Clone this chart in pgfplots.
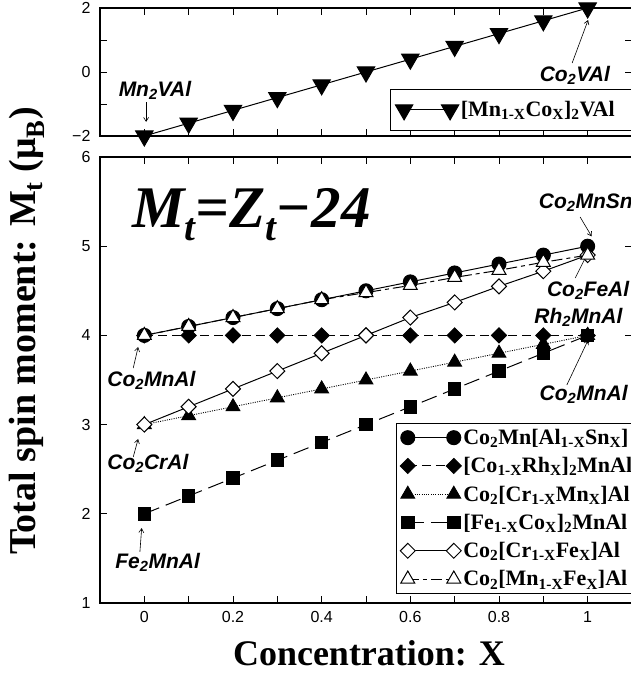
\documentclass[border=0pt]{standalone}
\usepackage{fontspec}
\setmainfont{Liberation Serif}
\newfontfamily\arial{Liberation Sans}
\usepackage{pgfplots}
\pgfplotsset{compat=1.18}
\usetikzlibrary{arrows.meta}
\newcommand{\ann}[1]{{\arial\bfseries\itshape\fontsize{21}{22}\selectfont #1}}
\tikzset{ann arrow/.style={line width=0.6pt, -{Straight Barb[length=4pt,width=5pt]}}}
\begin{document}
\begin{tikzpicture}
\pgfplotsset{
  common/.style={scale only axis, width=532pt, xmin=-0.1, xmax=1.1, clip=false,
    tick align=inside, major tick length=7pt,
    axis line style={line width=1.2pt},
    every tick/.style={black, line width=0.9pt},
    xtick={0,0.1,0.2,0.3,0.4,0.5,0.6,0.7,0.8,0.9,1},
    ticklabel style={font=\arial\fontsize{16}{16}\selectfont},
    yticklabel style={xshift=-6pt},
    xticklabel style={yshift=-5pt},
    legend cell align=left,
    legend image code/.code={\draw[##1] plot coordinates {(0pt,0pt) (46pt,0pt)};},
  },
}
% bottom panel
\begin{axis}[common, at={(0,0)}, anchor=south west, height=446pt,
  ymin=1, ymax=6, ytick={1,2,3,4,5,6}, yticklabels={1,2,3,4,5,6},
  xticklabels={0,,0.2,,0.4,,0.6,,0.8,,1},
  legend style={at={(0.556,0.404)}, anchor=north west, draw=black, line width=1pt,
    font=\bfseries\fontsize{22}{24}\selectfont, row sep=7.5pt, inner sep=4pt},
]
\addplot[black, line width=1pt, mark=*, mark size=7pt, mark options={solid, fill=black}]
  coordinates {(0,4) (0.1,4.1) (0.2,4.2) (0.3,4.3) (0.4,4.4) (0.5,4.5) (0.6,4.6) (0.7,4.7) (0.8,4.8) (0.9,4.9) (1,5)};
\addlegendentry{Co\textsubscript{2}Mn[Al\textsubscript{1-X}Sn\textsubscript{X}]\rule{50pt}{0pt}}
\addplot[black, line width=1pt, dash pattern=on 9pt off 5pt, mark=square*, mark size=5.3pt, mark options={solid, fill=black, rotate=45}]
  coordinates {(0,4) (0.1,4) (0.2,4) (0.3,4) (0.4,4) (0.5,4) (0.6,4) (0.7,4) (0.8,4) (0.9,4) (1,4)};
\addlegendentry{[Co\textsubscript{1-X}Rh\textsubscript{X}]\textsubscript{2}MnAl}
\addplot[black, line width=0.9pt, dash pattern=on 1pt off 1.3pt, mark=triangle*, mark size=8pt, mark options={solid, fill=black}]
  coordinates {(0,3) (0.1,3.1) (0.2,3.2) (0.3,3.3) (0.4,3.4) (0.5,3.5) (0.6,3.6) (0.7,3.7) (0.8,3.8) (0.9,3.9) (1,4)};
\addlegendentry{Co\textsubscript{2}[Cr\textsubscript{1-X}Mn\textsubscript{X}]Al}
\addplot[black, line width=1pt, dash pattern=on 16pt off 7pt, mark=square*, mark size=6.3pt, mark options={solid, fill=black}]
  coordinates {(0,2) (0.1,2.2) (0.2,2.4) (0.3,2.6) (0.4,2.8) (0.5,3) (0.6,3.2) (0.7,3.4) (0.8,3.6) (0.9,3.8) (1,4)};
\addlegendentry{[Fe\textsubscript{1-X}Co\textsubscript{X}]\textsubscript{2}MnAl}
\addplot[black, line width=1pt, mark=square*, mark size=5.3pt, mark options={solid, fill=white, rotate=45}]
  coordinates {(0,3) (0.1,3.2) (0.2,3.4) (0.3,3.6) (0.4,3.8) (0.5,4) (0.6,4.2) (0.7,4.37) (0.8,4.55) (0.9,4.72) (1,4.9)};
\addlegendentry{Co\textsubscript{2}[Cr\textsubscript{1-X}Fe\textsubscript{X}]Al}
\addplot[black, line width=1pt, dash pattern=on 11pt off 4pt on 4pt off 4pt, mark=triangle*, mark size=8pt, mark options={solid, fill=white}]
  coordinates {(0,4) (0.1,4.1) (0.2,4.2) (0.3,4.3) (0.4,4.4) (0.5,4.48) (0.6,4.56) (0.7,4.65) (0.8,4.73) (0.9,4.82) (1,4.9)};
\addlegendentry{Co\textsubscript{2}[Mn\textsubscript{1-X}Fe\textsubscript{X}]Al}

\node[anchor=base west, inner sep=0pt] at (axis cs:-0.028,5.215)
  {\fontsize{59}{61}\selectfont\bfseries\itshape M\raisebox{-13pt}{\fontsize{39}{39}\selectfont t}=Z\raisebox{-13pt}{\fontsize{39}{39}\selectfont t}−24};

\node at (axis cs:0.996,5.484) {\ann{Co\textsubscript{2}MnSn}};
\draw[ann arrow] (axis cs:0.983,5.327) -- (axis cs:1.009,5.11);
\node at (axis cs:1.001,4.509) {\ann{Co\textsubscript{2}FeAl}};
\draw[ann arrow] (axis cs:0.972,4.644) -- (axis cs:0.998,4.901);
\node at (axis cs:0.979,4.206) {\ann{Rh\textsubscript{2}MnAl}};
\node at (axis cs:0.991,3.343) {\ann{Co\textsubscript{2}MnAl}};
\draw[ann arrow] (axis cs:0.953,3.444) -- (axis cs:1.001,3.948);
\node at (axis cs:0.016,3.5) {\ann{Co\textsubscript{2}MnAl}};
\draw[ann arrow] (axis cs:-0.025,3.634) -- (axis cs:-0.014,3.87);
\node at (axis cs:0.008,2.57) {\ann{Co\textsubscript{2}CrAl}};
\draw[ann arrow] (axis cs:-0.025,2.637) -- (axis cs:-0.014,2.839);
\node at (axis cs:0.03,1.46) {\ann{Fe\textsubscript{2}MnAl}};
\draw[ann arrow] (axis cs:-0.01,1.572) -- (axis cs:-0.006,1.84);
\end{axis}

% top panel
\begin{axis}[common, at={(0,467pt)}, anchor=south west, height=128pt,
  ymin=-2, ymax=2, ytick={-2,-1,0,1,2}, yticklabels={−2,,0,,2},
  xticklabels={},
  legend style={at={(0.545,0.367)}, anchor=north west, draw=black, line width=1pt,
    font=\bfseries\fontsize{22}{24}\selectfont, inner xsep=5pt, inner ysep=10pt},
]
\addplot[black, line width=1pt, mark=triangle*, mark size=10pt, mark options={solid, fill=black, rotate=180}]
  coordinates {(0,-2) (0.1,-1.6) (0.2,-1.2) (0.3,-0.8) (0.4,-0.4) (0.5,0) (0.6,0.4) (0.7,0.8) (0.8,1.2) (0.9,1.6) (1,2)};
\addlegendentry{[Mn\textsubscript{1-X}Co\textsubscript{X}]\textsubscript{2}VAl\rule{50pt}{0pt}}
\node at (axis cs:0.024,-0.5625) {\ann{Mn\textsubscript{2}VAl}};
\draw[ann arrow] (axis cs:0.004,-0.94) -- (axis cs:0.004,-1.56);
\node at (axis cs:0.971,-0.094) {\ann{Co\textsubscript{2}VAl}};
\draw[ann arrow] (axis cs:0.965,0.281) -- (axis cs:1.001,1.625);
\end{axis}

\node[rotate=90, font=\bfseries\fontsize{38}{40}\selectfont] at (-73pt,272pt)
  {Total spin moment: M\textsubscript{t} (μ\textsubscript{B})};
\node[anchor=base, font=\bfseries\fontsize{36}{38}\selectfont] at (269pt,-63pt) {Concentration: X};

\pgfresetboundingbox
\path[use as bounding box] (-100pt,-74pt) rectangle (530.3pt,603pt);
\end{tikzpicture}
\end{document}
